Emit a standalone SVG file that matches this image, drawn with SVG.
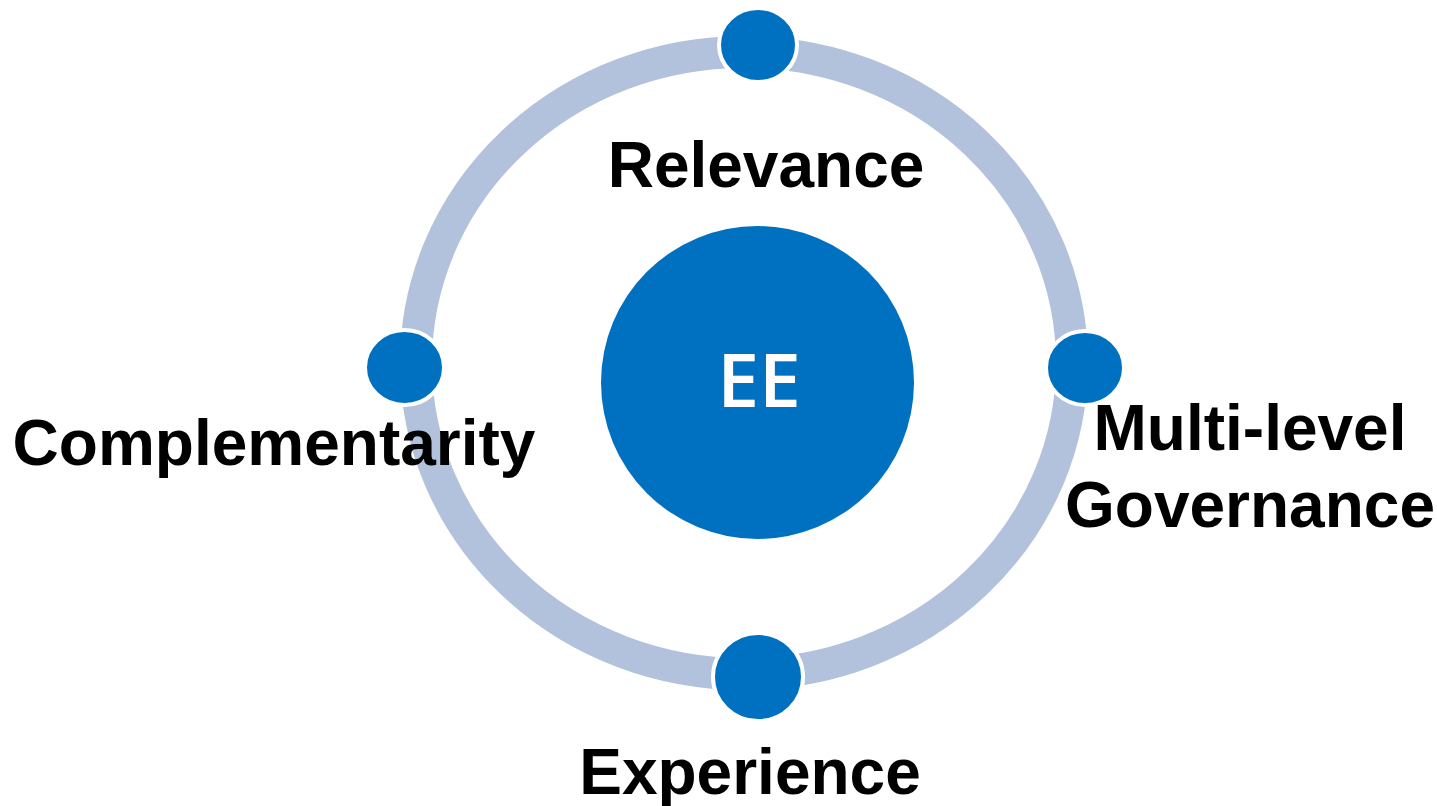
<svg xmlns="http://www.w3.org/2000/svg" width="1437" height="806" viewBox="0 0 1437 806">
<style>
.ring{fill:none;stroke:#B3C2DC;stroke-width:32}
.dot{fill:#0070C0;stroke:#FFFFFF;stroke-width:4}
.lbl{font-family:"Liberation Sans",Arial,sans-serif;font-weight:bold;font-size:64px;fill:#000000}
.ctr{font-family:"Open Sans","Noto Sans",sans-serif;font-weight:600;font-size:75px;fill:#FFFFFF}
</style>
<rect width="1437" height="806" fill="#FFFFFF"/>
<g id="connectors">
<ellipse class="ring" cx="744" cy="363" rx="328" ry="311"/>
</g>
<g id="center">
<circle cx="757.5" cy="382.5" r="156.5" fill="#0070C0"/>
<text class="ctr" x="759" y="407" text-anchor="middle">EE</text>
</g>
<g id="relevance">
<ellipse class="dot" cx="758" cy="45" rx="39" ry="37"/>
<text class="lbl" x="766" y="187" text-anchor="middle">Relevance</text>
</g>
<g id="multilevel">
<ellipse class="dot" cx="1085" cy="368" rx="39" ry="37"/>
<text class="lbl" x="1250" y="450" text-anchor="middle">Multi-level</text>
<text class="lbl" x="1250" y="527" text-anchor="middle">Governance</text>
</g>
<g id="experience">
<ellipse class="dot" cx="758" cy="677" rx="45" ry="44"/>
<text class="lbl" x="750" y="794" text-anchor="middle">Experience</text>
</g>
<g id="complementarity">
<ellipse class="dot" cx="404.5" cy="367.5" rx="39.5" ry="37.5"/>
<text class="lbl" x="274" y="465" text-anchor="middle">Complementarity</text>
</g>
</svg>
